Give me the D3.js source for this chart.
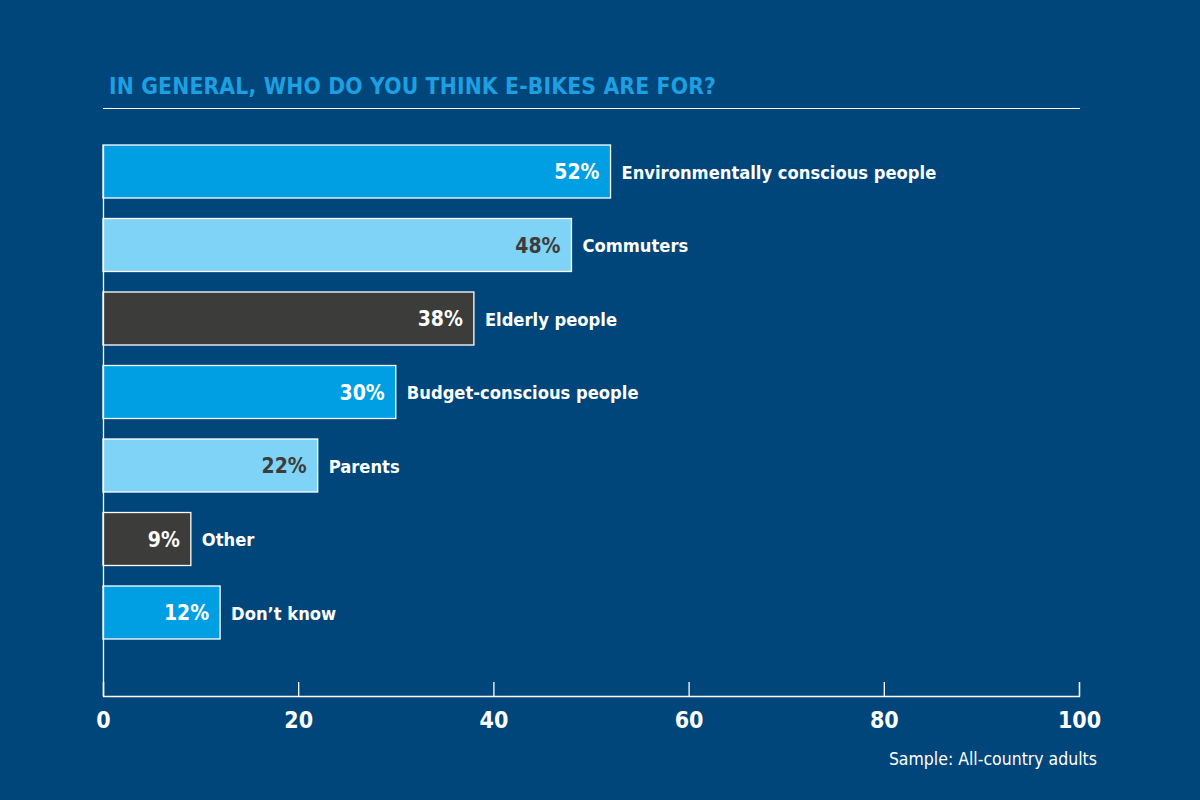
<!DOCTYPE html>
<html><head><meta charset="utf-8">
<script src="https://cdn.jsdelivr.net/npm/d3@7"></script>
<style>
html,body{margin:0;padding:0;background:#00467a;}
svg{display:block;}
text{font-family:"DejaVu Sans Condensed","Liberation Sans Narrow",sans-serif;}
</style></head>
<body><svg id="chart" width="1200" height="800"></svg>
<script>
const categories = ["Environmentally conscious people","Commuters","Elderly people","Budget-conscious people","Parents","Other","Don\u2019t know"];
const values = [52,48,38,30,22,9,12];
const colorKeys = ["blue","light","dark","blue","light","dark","blue"];
const tickValues = [0,20,40,60,80,100];
const title = "IN GENERAL, WHO DO YOU THINK E-BIKES ARE FOR?";
const note = "Sample: All-country adults";

const palette = {blue:"#009fe3", light:"#7fd3f7", dark:"#3c3c3b"};
const valueColor = {blue:"#ffffff", light:"#3c3c3b", dark:"#ffffff"};

const svg = d3.select("#chart");
svg.append("rect").attr("width",1200).attr("height",800).attr("fill","#00467a");

const x = d3.scaleLinear().domain([0,100]).range([103,1079]);
const y = d3.scaleBand().domain(categories).range([134.75,649.25]).paddingInner(0.279).paddingOuter(0.1395);

// title
svg.append("text").attr("x",109).attr("y",94).text(title)
  .attr("fill","#1ca0e2").attr("font-size",22.6).attr("font-weight","bold").attr("letter-spacing",0.2);
svg.append("line").attr("x1",103).attr("x2",1080).attr("y1",108.5).attr("y2",108.5)
  .attr("stroke","#ffffff").attr("stroke-width",1);

// bars
const g = svg.append("g");
g.selectAll("rect.bar").data(categories).join("rect").attr("class","bar")
  .attr("x",x(0)).attr("y",d=>y(d))
  .attr("width",(d,i)=>x(values[i])-x(0)).attr("height",y.bandwidth())
  .attr("fill",(d,i)=>palette[colorKeys[i]])
  .attr("stroke","#ffffff").attr("stroke-width",1.3);

g.selectAll("text.val").data(categories).join("text").attr("class","val")
  .attr("x",(d,i)=>x(values[i])-11).attr("y",d=>y(d)+y.bandwidth()/2+7.5)
  .attr("text-anchor","end").attr("font-size",21).attr("font-weight","bold")
  .attr("fill",(d,i)=>valueColor[colorKeys[i]])
  .text((d,i)=>values[i]+"%");

g.selectAll("text.cat").data(categories).join("text").attr("class","cat")
  .attr("x",(d,i)=>x(values[i])+11).attr("y",d=>y(d)+y.bandwidth()/2+7)
  .attr("font-size",18.2).attr("font-weight","bold").attr("fill","#ffffff")
  .text(d=>d);

// y axis line
svg.append("line").attr("x1",103.5).attr("x2",103.5).attr("y1",145).attr("y2",696)
  .attr("stroke","#ffffff").attr("stroke-width",1.3);

// x axis
const xAxis = d3.axisBottom(x).tickValues(tickValues).tickSize(-14).tickPadding(16).tickFormat(d3.format("d"));
const ax = svg.append("g").attr("transform","translate(0,696)").call(xAxis);
ax.select(".domain").attr("stroke","#ffffff").attr("stroke-width",1.3);
ax.selectAll(".tick line").attr("stroke","#ffffff").attr("stroke-width",1.3);
ax.selectAll(".tick text").attr("fill","#ffffff").attr("font-size",23).attr("font-weight","bold")
  .attr("font-family",'"DejaVu Sans Condensed","Liberation Sans Narrow",sans-serif');

svg.append("text").attr("x",1097).attr("y",765).attr("text-anchor","end")
  .attr("fill","#ffffff").attr("font-size",17.5).text(note);
</script></body></html>
